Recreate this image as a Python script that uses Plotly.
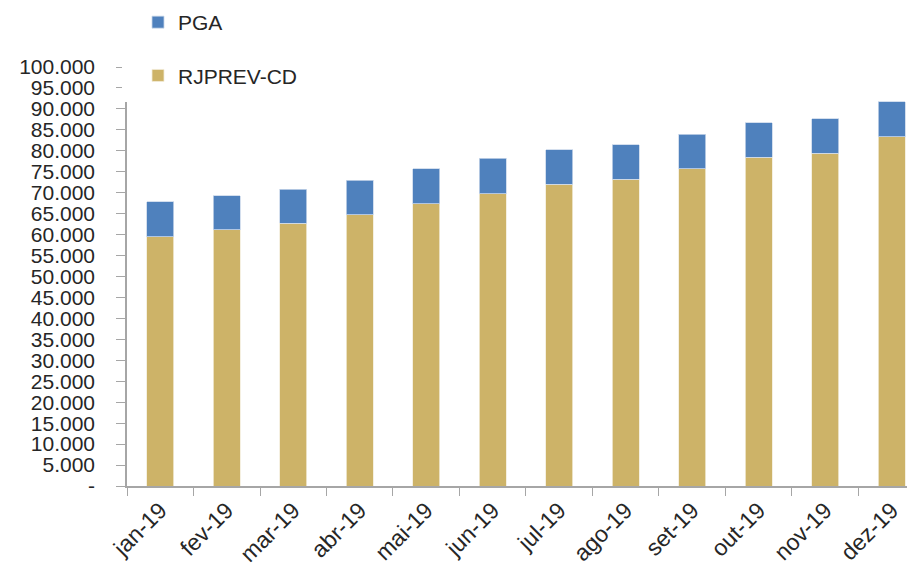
import plotly.graph_objects as go

months = ["jan-19", "fev-19", "mar-19", "abr-19", "mai-19", "jun-19",
          "jul-19", "ago-19", "set-19", "out-19", "nov-19", "dez-19"]
rjprev_cd = [59500, 61100, 62700, 64700, 67400, 69800, 72000, 73200, 75700, 78500, 79400, 83300]
pga = [8300, 8200, 8100, 8300, 8300, 8400, 8300, 8300, 8300, 8200, 8300, 8400]

y_tickvals = list(range(0, 100001, 5000))
y_ticktext = ["-"] + [f"{v:,}".replace(",", ".") for v in y_tickvals[1:]]

font_family = "Liberation Sans, Arial, sans-serif"
text_color = "#262626"
axis_color = "#A6A6A6"

# page has an 8px body margin, so the figure is 8px smaller and offset
OFF = 8
W, H = 915 - OFF, 574 - OFF
L, R, T, B = 127 - OFF, 0, 67 - OFF, 88
PW, PH = W - L - R, H - T - B


def px_x(p):  # page pixel -> paper x
    return (p - OFF - L) / PW


def px_y(p):  # page pixel -> paper y
    return (H - B - (p - OFF)) / PH


fig = go.Figure()
fig.add_trace(go.Bar(
    x=months, y=rjprev_cd, name="RJPREV-CD", legendgroup="b", legendrank=2,
    marker=dict(color="#CDB368", line=dict(color="#F2ECD9", width=0.8)),
))
fig.add_trace(go.Bar(
    x=months, y=pga, name="PGA", legendgroup="a", legendrank=1,
    marker=dict(color="#4F81BD", line=dict(color="#C9D7EA", width=0.8)),
))

# white legend box area covering the top of the y-axis line (as in the original)
fig.add_shape(type="rect", xref="paper", yref="paper",
              x0=px_x(122), x1=px_x(330), y0=px_y(102), y1=px_y(0),
              fillcolor="white", line=dict(width=0), layer="above")

fig.update_layout(
    width=W, height=H,
    barmode="stack", bargap=0.59,
    plot_bgcolor="white", paper_bgcolor="white",
    margin=dict(l=L, r=R, t=T, b=B, autoexpand=False),
    font=dict(family=font_family, size=22, color=text_color),
    legend=dict(x=px_x(138), y=px_y(2), xanchor="left", yanchor="top",
                bgcolor="rgba(0,0,0,0)", font=dict(size=21), itemwidth=30,
                traceorder="grouped", tracegroupgap=23),
    xaxis=dict(
        range=[-0.5, 11.35],
        showline=True, linecolor=axis_color, linewidth=1.5,
        ticks="outside", tickson="boundaries", ticklen=8, tickcolor=axis_color,
        tickangle=-45, showgrid=False, tickfont=dict(size=23),
    ),
    yaxis=dict(
        range=[0, 100000],
        tickvals=y_tickvals, ticktext=y_ticktext,
        showline=True, linecolor=axis_color, linewidth=1.5,
        ticks="outside", ticklen=9, tickcolor=axis_color,
        ticklabelstandoff=17,
        showgrid=False, zeroline=False, tickfont=dict(size=21),
    ),
)

fig.write_html("out.html")
